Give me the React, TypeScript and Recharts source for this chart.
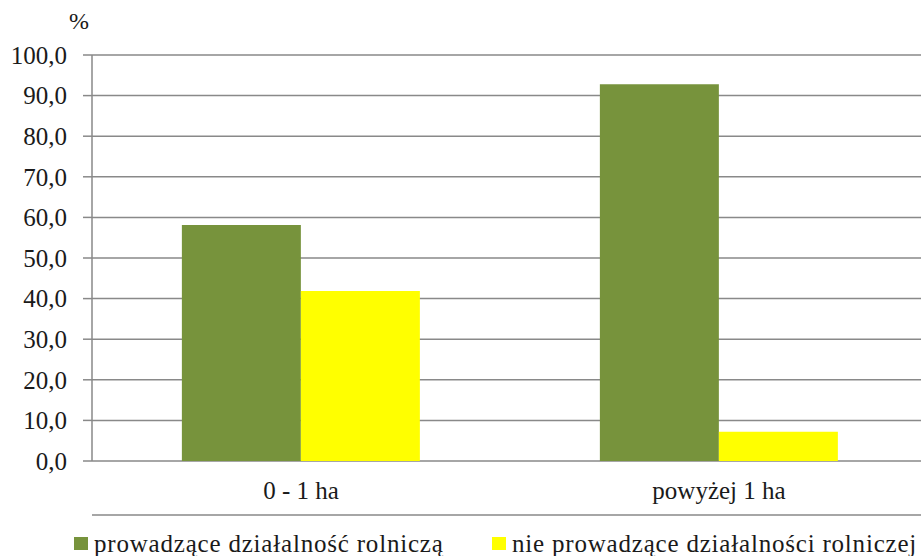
import React from 'react';
import { BarChart, Bar, XAxis, YAxis, CartesianGrid, Legend } from 'recharts';

const categories = ['0 - 1 ha', 'powyżej 1 ha'];
const prowadzace = [58.1, 92.8];
const nieProwadzace = [41.9, 7.2];
const yTicks = [0, 10, 20, 30, 40, 50, 60, 70, 80, 90, 100];
const boundaryTicks = [0, 1, 2];
const seriesNames = ['prowadzące działalność rolniczą', 'nie prowadzące działalności rolniczej'];
const seriesColors = ['#77933C', '#FFFF00'];

const data = categories.map((c, i) => ({
  name: c,
  a: prowadzace[i],
  b: nieProwadzace[i],
}));

const FONT = 'Liberation Serif, Tinos, DejaVu Serif, Times New Roman, serif';
const TEXT = '#1a1a1a';
const GRID = '#898989';

const fmt = (v: number) => v.toFixed(1).replace('.', ',');

const LegendContent = (props: any) => {
  const payload = [...(props.payload || [])].sort(
    (x: any, y: any) => seriesNames.indexOf(x.value) - seriesNames.indexOf(y.value)
  );
  return (
    <div style={{ display: 'flex', paddingLeft: 74, paddingTop: 15, fontFamily: FONT, fontSize: 25, color: TEXT, lineHeight: '25px' }}>
      {payload.map((p: any, i: number) => (
        <div key={i} style={{ display: 'flex', alignItems: 'center', width: i === 0 ? 418 : 420 }}>
          <span style={{ display: 'inline-block', width: 14, height: 13, background: p.color, marginRight: 6, flexShrink: 0 }} />
          <span style={{ whiteSpace: 'nowrap', letterSpacing: 0.8 }}>{p.value}</span>
        </div>
      ))}
    </div>
  );
};

export default function App() {
  return (
    <div style={{ position: 'absolute', left: 0, top: 0, width: 921, height: 556, overflow: 'hidden', background: '#fff' }}>
      <div style={{ position: 'absolute', left: 69, top: 8, fontFamily: FONT, fontSize: 24, color: TEXT }}>%</div>
      <BarChart
        width={930}
        height={556}
        data={data}
        margin={{ top: 55, right: 2, left: 0, bottom: 0 }}
        barCategoryGap="21.5%"
        barGap={0}
      >
        <CartesianGrid vertical={false} stroke={GRID} strokeWidth={1.5} />
        <XAxis
          xAxisId="bounds"
          type="number"
          domain={[0, 2]}
          ticks={boundaryTicks}
          tick={false}
          height={1}
          tickSize={9}
          axisLine={{ stroke: GRID, strokeWidth: 1.5 }}
          tickLine={{ stroke: GRID, strokeWidth: 1.5 }}
        />
        <XAxis
          dataKey="name"
          height={54}
          axisLine={false}
          tickLine={false}
          tickMargin={14}
          tick={{ fontFamily: FONT, fontSize: 25, fill: TEXT }}
        />
        <YAxis
          width={92}
          domain={[0, 100]}
          ticks={yTicks}
          tickFormatter={fmt}
          tickSize={9}
          tickMargin={16}
          interval={0}
          axisLine={{ stroke: GRID, strokeWidth: 1.5 }}
          tickLine={{ stroke: GRID, strokeWidth: 1.5 }}
          tick={{ fontFamily: FONT, fontSize: 25, fill: TEXT }}
        />
        <Legend verticalAlign="bottom" height={40} content={LegendContent} wrapperStyle={{ left: 0, width: 930 }} />
        <Bar dataKey="a" name={seriesNames[0]} fill={seriesColors[0]} isAnimationActive={false} />
        <Bar dataKey="b" name={seriesNames[1]} fill={seriesColors[1]} isAnimationActive={false} />
      </BarChart>
    </div>
  );
}
